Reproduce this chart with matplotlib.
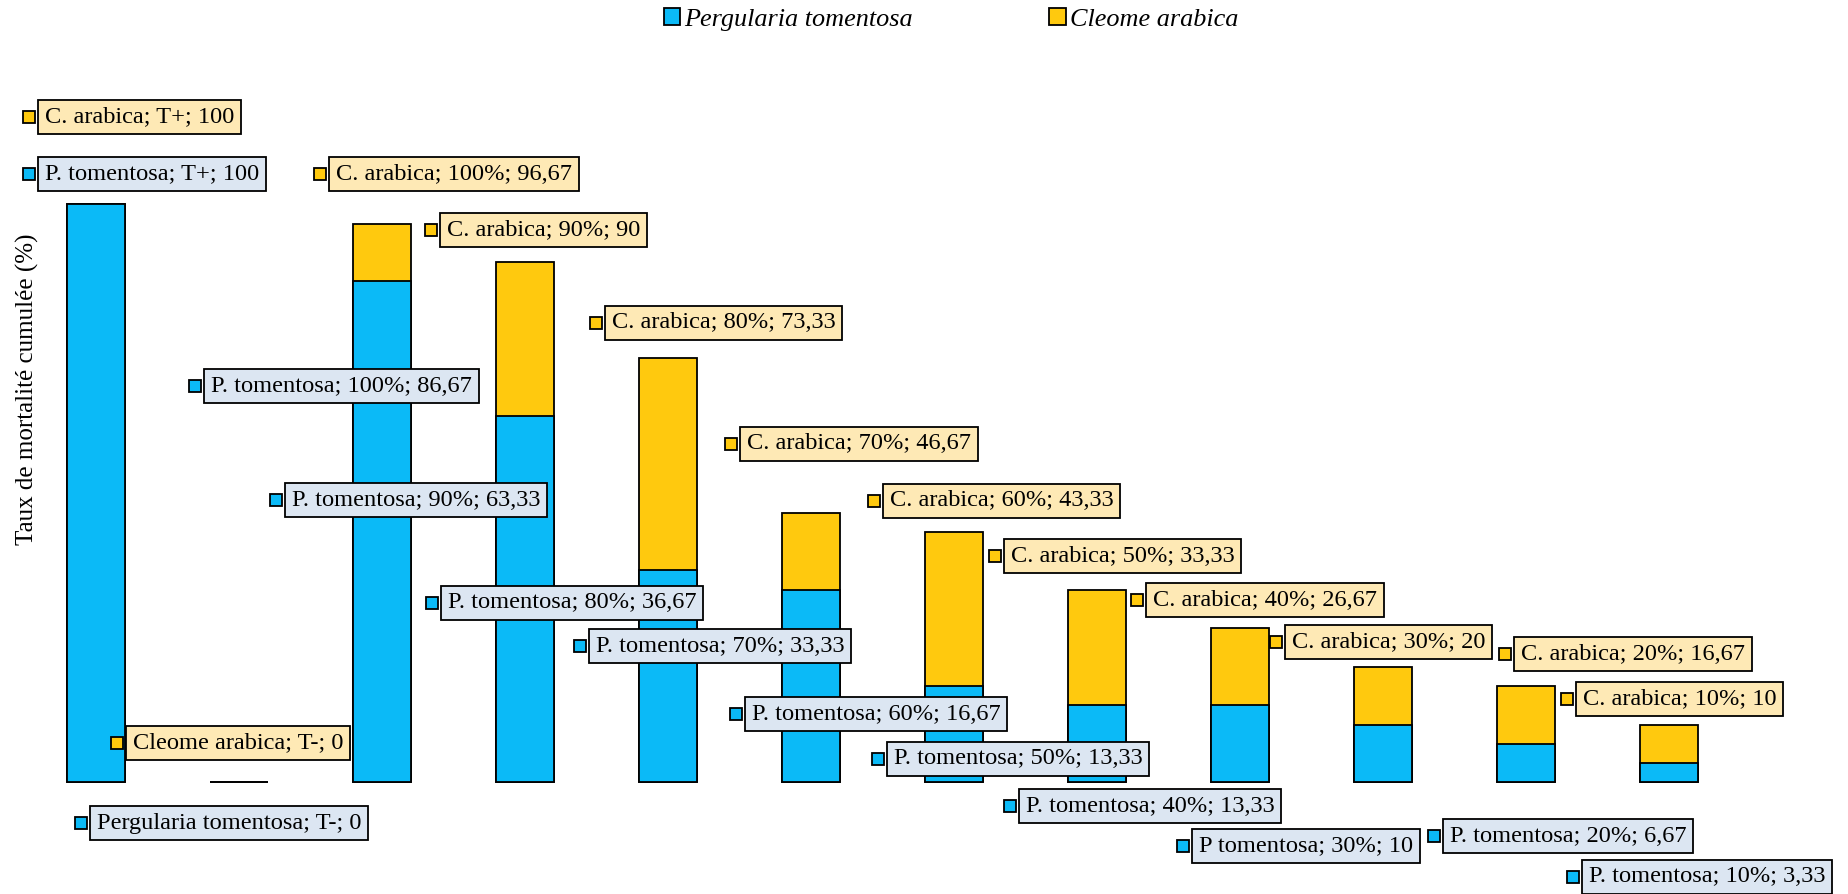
import matplotlib.pyplot as plt
import numpy as np

plt.rcParams['font.family'] = ['Liberation Serif', 'DejaVu Serif']

# donnees
categories = ['T+', 'T-', '100%', '90%', '80%', '70%', '60%', '50%', '40%', '30%', '20%', '10%']
p_tomentosa = [100, 0, 86.67, 63.33, 36.67, 33.33, 16.67, 13.33, 13.33, 10, 6.67, 3.33]
c_arabica = [100, 0, 96.67, 90, 73.33, 46.67, 43.33, 33.33, 26.67, 20, 16.67, 10]
noms_pt = ['P. tomentosa', 'Pergularia tomentosa'] + ['P. tomentosa'] * 7 + ['P tomentosa'] + ['P. tomentosa'] * 2
noms_ca = ['C. arabica', 'Cleome arabica'] + ['C. arabica'] * 10

# position des etiquettes (bord gauche de la boite, centre vertical), pixels depuis le haut a gauche
pos_pt = [(38, 174), (90, 823), (204, 386), (285, 500), (441, 603), (589, 646),
          (745, 714), (887, 759), (1019, 806), (1192, 846), (1443, 836), (1582, 877)]
pos_ca = [(38, 117), (126, 743), (329, 174), (440, 230), (605, 323), (740, 444),
          (883, 501), (1004, 556), (1146, 600), (1285, 642), (1514, 654), (1576, 699)]

bleu = '#0BBAF7'
jaune = '#FFC90E'
fond_bleu = '#DCE6F2'
fond_jaune = '#FEE9B5'

W, H = 1849, 894
fig = plt.figure(figsize=(W / 100, H / 100), dpi=100)
ax = fig.add_axes([0, 0, 1, 1])

x = np.arange(len(categories))
b_ca = ax.bar(x, c_arabica, width=0.405, color=jaune, edgecolor='black', linewidth=1.3, zorder=2)
b_pt = ax.bar(x, p_tomentosa, width=0.405, color=bleu, edgecolor='black', linewidth=1.3, zorder=3)

# echelle : barre 0 centree a 96 px, pas de 143 px ; 0 a 782 px, 100 a 204 px
ax.set_xlim(-96 / 143, (W - 96) / 143)
ax.set_ylim(-(H - 782.3) / 5.78, 782.3 / 5.78)
ax.axis('off')

def fmt(v):
    return f'{v:g}'.replace('.', ',')

fs = 17.6
pad = 0.28
pad_px = pad * fs * 100 / 72
for i in range(len(categories)):
    for noms, vals, pos, fond, coul in [(noms_ca, c_arabica, pos_ca, fond_jaune, jaune),
                                         (noms_pt, p_tomentosa, pos_pt, fond_bleu, bleu)]:
        bx, cy = pos[i]
        txt = f'{noms[i]}; {categories[i]}; {fmt(vals[i])}'
        fig.text((bx + pad_px) / W, 1 - cy / H, txt, fontsize=fs, ha='left', va='center',
                 bbox=dict(boxstyle=f'square,pad={pad}', fc=fond, ec='black', lw=1.3), zorder=5)
        ax.plot([(bx - 9.3) / W], [1 - cy / H], marker='s', ms=8.8, mfc=coul, mec='black',
                mew=1.3, transform=fig.transFigure, clip_on=False, zorder=6)

fig.text(27 / W, 1 - 389 / H, 'Taux de mortalité cumulée (%)', rotation=90,
         ha='center', va='center', fontsize=18)

ax.legend([b_pt, b_ca], ['Pergularia tomentosa', 'Cleome arabica'], loc='center',
          bbox_to_anchor=(951 / W, 1 - 19.5 / H), bbox_transform=fig.transFigure,
          ncol=2, frameon=False, prop={'style': 'italic', 'size': 18.9},
          handlelength=0.62, handleheight=0.62, handletextpad=0.15, columnspacing=5.2,
          borderpad=0, borderaxespad=0)

fig.savefig('out.png', dpi=100)
